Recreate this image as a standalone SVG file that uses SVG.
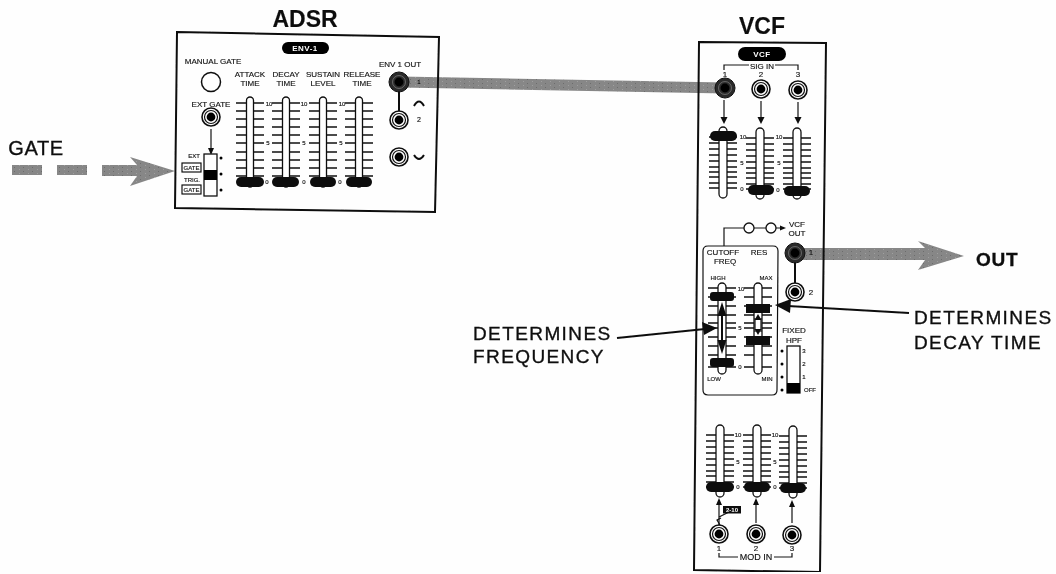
<svg xmlns="http://www.w3.org/2000/svg" width="1056" height="574" viewBox="0 0 1056 574">
<style>
text{font-family:"Liberation Sans",Arial,sans-serif;fill:#111;text-anchor:middle;stroke:#111;stroke-width:.15px}
.s{font-size:8px}
.xs{font-size:6px}
.t{font-size:23px;font-weight:bold}
.c{font-size:19px;letter-spacing:1.4px;text-anchor:start;stroke-width:.35px}
.w{fill:#fff;stroke:none;font-weight:bold;font-size:8px;letter-spacing:.5px}
.ln{fill:none;stroke:#111;stroke-width:1.2}
.frame{fill:none;stroke:#111;stroke-width:2}
.tick{fill:none;stroke:#111;stroke-width:1.4}
.body{fill:#fff;stroke:#111;stroke-width:1.3}
.thumb{fill:#0a0a0a}
.ar{fill:#111}
.big{fill:url(#dith);stroke:none}
.thin{fill:none;stroke:#111;stroke-width:2}
</style>
<defs>
<pattern id="dith" width="9" height="4" patternUnits="userSpaceOnUse"><rect width="9" height="4" fill="#878787"/><rect x="1" y="1" width="1" height="1" fill="#a0a0a0"/><rect x="5" y="3" width="1" height="1" fill="#6c6c6c"/></pattern>
<filter id="soft" x="0" y="0" width="100%" height="100%"><feGaussianBlur stdDeviation="0.4"/></filter>
<g id="jack"><circle r="9" fill="#fff" stroke="#111" stroke-width="1.6"/><circle r="6.500" fill="none" stroke="#111" stroke-width="1.2"/><circle r="4.400" fill="#000"/></g>
<g id="jackd"><circle r="10" fill="#2a2a2a" stroke="#111"/><circle r="6.500" fill="none" stroke="#777" stroke-width=".8"/><circle r="4.400" fill="#000"/></g>
<g id="slA"><path class="tick" d="M-14 6H14M-14 14H14M-14 22H14M-14 30H14M-14 38H14M-14 46H14M-14 55H14M-14 63H14M-14 71H14M-14 79H14"/><rect class="body" x="-3.500" y="0" width="7" height="90" rx="3.500"/></g>
<g id="slB"><path class="tick" d="M-14 10H14M-14 16H14M-14 22H14M-14 28H14M-14 34H14M-14 40H14M-14 45H14M-14 50H14M-14 56H14M-14 61H14"/><rect class="body" x="-4" y="0" width="8" height="71" rx="4"/></g>
<g id="slC"><path class="tick" d="M-14 5H14M-14 14H14M-14 23H14M-14 32H14M-14 40H14M-14 45H14M-14 54H14M-14 63H14M-14 72H14M-14 84H14"/><rect class="body" x="-4" y="0" width="8" height="91" rx="4"/></g>
<g id="slD"><path class="tick" d="M-14 10H14M-14 16H14M-14 22H14M-14 28H14M-14 34H14M-14 40H14M-14 46H14M-14 51H14M-14 57H14M-14 62H14"/><rect class="body" x="-4" y="0" width="8" height="72" rx="4"/></g>
</defs>
<rect width="1056" height="574" fill="#fefefe"/>
<g filter="url(#soft)">
<g id="connectors">
<path class="big" d="M400 76.500L725 82.500V93.500L400 87.500Z"/>
<path class="big" d="M800 248H925L918 241L964 256L918 270L925 260H800Z"/>
<path class="big" d="M12 165H42V175H12ZM57 165H87V175H57ZM102 165H137L130 157L175 171L130 186L137 176H102Z"/>
<path class="thin" d="M617 338L705 329"/>
<path class="ar" d="M717 328L702 322L704 335Z"/>
<path class="thin" d="M909 313L788 306"/>
<path class="ar" d="M775 305L791 299L790 313Z"/>
</g>
<g id="node-gate-label"><text style="font-size:20px;letter-spacing:.6px;stroke-width:.35px" x="36" y="155">GATE</text></g>
<g id="node-adsr">
<text class="t" x="305" y="27">ADSR</text>
<path class="frame" d="M177 32L439 37L435 212L175 208Z"/>
<rect x="282" y="42" width="47" height="12" rx="6" fill="#000"/>
<text class="w" x="305" y="51">ENV-1</text>
<text class="s" x="213" y="64">MANUAL GATE</text>
<circle cx="211" cy="82" r="9.500" fill="#fff" stroke="#111" stroke-width="1.500"/>
<text class="s" x="211" y="107">EXT GATE</text>
<use href="#jack" x="211" y="117"/>
<path class="ln" d="M211 129V150"/><path class="ar" d="M211 155L208 148H214Z"/>
<text class="xs" x="194" y="158">EXT</text>
<rect class="ln" x="182" y="163" width="19" height="9"/><text class="xs" x="191.500" y="170">GATE</text>
<text class="xs" x="192" y="182">TRIG.</text>
<rect class="ln" x="182" y="185" width="19" height="9"/><text class="xs" x="191.500" y="192">GATE</text>
<rect class="body" x="204" y="154" width="13" height="42"/><rect x="204" y="170" width="13" height="10" fill="#000"/>
<circle cx="221" cy="158" r="1.500" fill="#000"/><circle cx="221" cy="174" r="1.500" fill="#000"/><circle cx="221" cy="190" r="1.500" fill="#000"/>
<text class="s" x="250" y="77">ATTACK</text><text class="s" x="250" y="86">TIME</text>
<text class="s" x="286" y="77">DECAY</text><text class="s" x="286" y="86">TIME</text>
<text class="s" x="323" y="77">SUSTAIN</text><text class="s" x="323" y="86">LEVEL</text>
<text class="s" x="362" y="77">RELEASE</text><text class="s" x="362" y="86">TIME</text>
<use href="#slA" x="250" y="97"/><use href="#slA" x="286" y="97"/><use href="#slA" x="323" y="97"/><use href="#slA" x="359" y="97"/>
<rect class="thumb" x="236" y="177" width="28" height="10" rx="5"/><rect class="thumb" x="272" y="177" width="27" height="10" rx="5"/><rect class="thumb" x="310" y="177" width="26" height="10" rx="5"/><rect class="thumb" x="346" y="177" width="26" height="10" rx="5"/>
<text class="xs" x="269" y="106">10</text><text class="xs" x="268" y="145">5</text><text class="xs" x="267" y="184">0</text>
<text class="xs" x="304" y="106">10</text><text class="xs" x="304" y="145">5</text><text class="xs" x="304" y="184">0</text>
<text class="xs" x="342" y="106">10</text><text class="xs" x="341" y="145">5</text><text class="xs" x="340" y="184">0</text>
<text class="s" x="400" y="67">ENV 1 OUT</text>
<path class="thin" d="M399 82V120"/>
<use href="#jackd" x="399" y="82"/><use href="#jack" x="399" y="120"/><use href="#jack" x="399" y="157"/>
<text class="xs" x="419" y="84">1</text><text class="xs" style="font-size:7px" x="419" y="122">2</text>
<path class="thin" d="M414 106Q419 97 424 106M414 155Q419 163 424 155"/>
</g>
<g id="node-vcf">
<text class="t" x="762" y="34">VCF</text>
<path class="frame" d="M699 42L826 43L820 572L694 570Z"/>
<rect x="738" y="47" width="48" height="14" rx="7" fill="#000"/>
<text class="w" x="762" y="57">VCF</text>
<path class="ln" d="M724 70V65H749M775 65H798V70"/>
<text class="s" x="762" y="69">SIG IN</text>
<text class="s" x="725" y="77">1</text><text class="s" x="761" y="77">2</text><text class="s" x="798" y="77">3</text>
<use href="#jackd" x="725" y="88"/><use href="#jack" x="761" y="89"/><use href="#jack" x="798" y="90"/>
<path class="ln" d="M724 100V118M761 101V118M798 102V118"/><path class="ar" d="M724 124L720.500 117H727.500ZM761 124L757.500 117H764.500ZM798 124L794.500 117H801.500Z"/>
<use href="#slB" x="723" y="127"/><use href="#slB" x="760" y="128"/><use href="#slB" x="797" y="128"/>
<rect class="thumb" x="710" y="131" width="27" height="10" rx="5"/><rect class="thumb" x="748" y="185" width="26" height="10" rx="5"/><rect class="thumb" x="784" y="186" width="26" height="10" rx="5"/>
<text class="xs" x="743" y="139">10</text><text class="xs" x="742" y="165">5</text><text class="xs" x="742" y="191">0</text>
<text class="xs" x="779" y="139">10</text><text class="xs" x="779" y="165">5</text><text class="xs" x="778" y="192">0</text>
<path class="ln" d="M724 246V228H744M754 228H766M776 228H782"/>
<circle cx="749" cy="228" r="5" fill="#fff" stroke="#111" stroke-width="1.300"/><circle cx="771" cy="228" r="5" fill="#fff" stroke="#111" stroke-width="1.300"/>
<path class="ar" d="M786 228L780 225.500V230.500Z"/>
<text class="s" x="797" y="227">VCF</text><text class="s" x="797" y="236">OUT</text>
<path class="ln" d="M708 246H773Q778 246 778 251L777 390Q777 395 772 395H708Q703 395 703 390V251Q703 246 708 246Z"/>
<text class="s" x="723" y="255">CUTOFF</text><text class="s" x="725" y="264">FREQ</text><text class="s" x="759" y="255">RES</text>
<text class="xs" x="718" y="280">HIGH</text><text class="xs" x="766" y="280">MAX</text><text class="xs" x="714" y="381">LOW</text><text class="xs" x="767" y="381">MIN</text>
<use href="#slC" x="722" y="283"/><use href="#slC" x="758" y="283"/>
<rect class="thumb" x="710" y="292" width="24" height="9" rx="3"/><rect class="thumb" x="710" y="358" width="24" height="9" rx="3"/>
<rect class="thumb" x="746" y="304" width="24" height="9"/><rect class="thumb" x="746" y="336" width="24" height="9"/>
<path class="thin" d="M722 308V350"/><path class="ar" d="M722 302L717.500 316H726.500ZM722 354L717.500 340H726.500Z"/>
<path class="ln" d="M755 318V332M761 318V332"/><path class="ar" d="M758 314L754.500 320H761.500ZM758 335L754.500 329H761.500Z"/>
<text class="xs" x="741" y="291">10</text><text class="xs" x="740" y="330">5</text><text class="xs" x="740" y="369">0</text>
<path class="thin" d="M795 253V292"/>
<use href="#jackd" x="795" y="253"/><use href="#jack" x="795" y="292"/>
<text class="s" x="811" y="255">1</text><text class="s" x="811" y="295">2</text>
<text class="s" x="794" y="333">FIXED</text><text class="s" x="794" y="343">HPF</text>
<rect class="body" x="787" y="346" width="13" height="47"/><rect x="787" y="383" width="13" height="10" fill="#000"/>
<circle cx="782" cy="351" r="1.500" fill="#000"/><circle cx="782" cy="364" r="1.500" fill="#000"/><circle cx="782" cy="377" r="1.500" fill="#000"/><circle cx="782" cy="390" r="1.500" fill="#000"/>
<text class="xs" x="804" y="353">3</text><text class="xs" x="804" y="366">2</text><text class="xs" x="804" y="379">1</text><text class="xs" x="810" y="392">OFF</text>
<use href="#slD" x="720" y="425"/><use href="#slD" x="757" y="425"/><use href="#slD" x="793" y="426"/>
<rect class="thumb" x="706" y="482" width="28" height="10" rx="5"/><rect class="thumb" x="744" y="482" width="26" height="10" rx="5"/><rect class="thumb" x="780" y="483" width="26" height="10" rx="5"/>
<text class="xs" x="738" y="437">10</text><text class="xs" x="738" y="464">5</text><text class="xs" x="738" y="489">0</text>
<text class="xs" x="775" y="437">10</text><text class="xs" x="775" y="464">5</text><text class="xs" x="775" y="489">0</text>
<path class="ln" d="M719 525V502M756 523V502M792 523V504"/>
<path class="ar" d="M719 498L716 505H722ZM756 498L753 505H759ZM792 500L789 507H795Z"/>
<path class="ln" d="M719 517L729 512M720 525L717 520L721 518"/>
<rect x="723" y="506" width="18" height="7.500" fill="#111"/>
<text style="font-size:6px;fill:#fff;stroke:none;font-weight:bold" x="732" y="512">2-10</text>
<use href="#jack" x="719" y="534"/><use href="#jack" x="756" y="534"/><use href="#jack" x="792" y="535"/>
<text class="s" x="719" y="551">1</text><text class="s" x="756" y="551">2</text><text class="s" x="792" y="551">3</text>
<path class="ln" d="M719 553V557H738M774 557H792V553"/>
<text class="s" style="font-size:9px" x="756" y="560">MOD IN</text>
</g>
<g id="label-frequency"><text class="c" x="473" y="340">DETERMINES</text><text class="c" x="473" y="363">FREQUENCY</text></g>
<g id="label-decay"><text class="c" x="914" y="324">DETERMINES</text><text class="c" x="914" y="349">DECAY TIME</text></g>
<g id="label-out"><text class="c" style="font-weight:bold;font-size:19px;letter-spacing:.8px" x="976" y="266">OUT</text></g>
</g>
</svg>
